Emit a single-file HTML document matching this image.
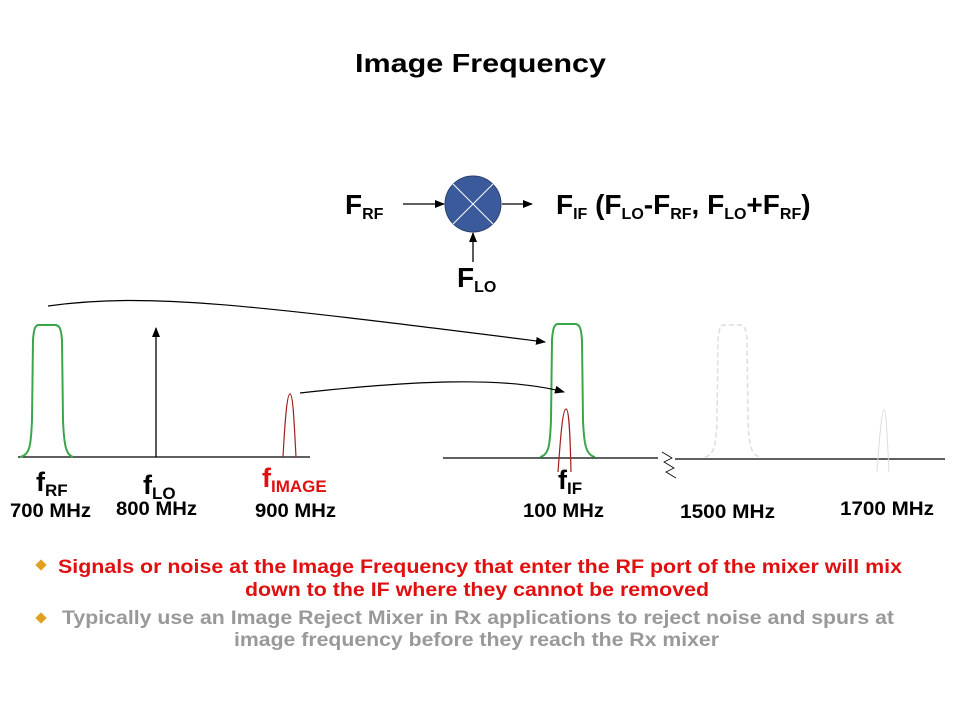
<!DOCTYPE html>
<html><head><style>
body{margin:0;width:960px;height:720px;background:#fff;overflow:hidden;font-family:"Liberation Sans",Arial,sans-serif}
svg text{font-family:"Liberation Sans",Arial,sans-serif;font-weight:bold}
</style></head><body>
<svg width="960" height="720" viewBox="0 0 960 720" xmlns="http://www.w3.org/2000/svg">
<defs>
<marker id="ah" markerWidth="10" markerHeight="8" refX="9" refY="4" orient="auto" markerUnits="userSpaceOnUse"><path d="M0,0 L10,4 L0,8 z" fill="#000"/></marker>
</defs>
<text x="355" y="72" font-size="26" textLength="251" lengthAdjust="spacingAndGlyphs">Image Frequency</text>

<!-- mixer -->
<circle cx="473" cy="204" r="28" fill="#3a5a9c" stroke="#2a3f70" stroke-width="1"/>
<line x1="453" y1="184" x2="493" y2="224" stroke="#fff" stroke-width="1"/>
<line x1="493" y1="184" x2="453" y2="224" stroke="#fff" stroke-width="1"/>
<line x1="403" y1="204" x2="444" y2="204" stroke="#000" stroke-width="1.3" marker-end="url(#ah)"/>
<line x1="502" y1="204" x2="532" y2="204" stroke="#000" stroke-width="1.3" marker-end="url(#ah)"/>
<line x1="473" y1="262" x2="473" y2="233" stroke="#000" stroke-width="1.3" marker-end="url(#ah)"/>
<text x="345" y="214" font-size="28">F<tspan font-size="16" dy="5">RF</tspan></text>
<text x="457" y="287" font-size="28">F<tspan font-size="16" dy="5">LO</tspan></text>
<text x="556" y="214" font-size="28">F<tspan font-size="16" dy="5">IF</tspan><tspan dy="-5"> (F</tspan><tspan font-size="16" dy="5">LO</tspan><tspan dy="-5">-F</tspan><tspan font-size="16" dy="5">RF</tspan><tspan dy="-5">, F</tspan><tspan font-size="16" dy="5">LO</tspan><tspan dy="-5">+F</tspan><tspan font-size="16" dy="5">RF</tspan><tspan dy="-5">)</tspan></text>

<!-- baselines -->
<line x1="18" y1="457" x2="310" y2="457" stroke="#000" stroke-width="1.3"/>
<line x1="443" y1="458" x2="658" y2="458" stroke="#000" stroke-width="1.3"/>
<line x1="675" y1="459" x2="945" y2="459" stroke="#000" stroke-width="1.3"/>
<path d="M662,452 L672,458 L664,462 L674,468 L666,472 L676,478" fill="none" stroke="#000" stroke-width="0.8"/>

<!-- RF filter -->
<path d="M20,457 C30,455 31,445 32,420 L33,340 C34,326 36,326 38,325 L56,325 C59,326 61,327 62,340 L63,420 C64,445 66,455 73,457" fill="none" stroke="#3aa64a" stroke-width="2"/>
<line x1="156" y1="457" x2="156" y2="328" stroke="#000" stroke-width="1.3" marker-end="url(#ah)"/>
<path d="M283,457 C285,420 287,394 290,394 C293,394 294,420 296,457" fill="none" stroke="#a02020" stroke-width="1.2"/>
<!-- IF filter -->
<path d="M540,457 C549,455 550,445 551,420 L552,340 C553,326 555,325 557,324 L576,324 C579,325 581,326 582,340 L583,420 C584,445 586,455 595,457" fill="none" stroke="#3aa64a" stroke-width="2"/>
<path d="M558,472 C561,430 563,409 566,409 C569,409 570,430 571,472" fill="none" stroke="#a02020" stroke-width="1.2"/>
<!-- ghost -->
<path d="M705,457 C714,455 716,445 717,420 L718,340 C719,327 721,326 723,325 L741,325 C744,326 746,327 747,340 L748,420 C749,445 751,455 760,457" fill="none" stroke="#ddd" stroke-width="1.5" stroke-dasharray="5,3"/>
<path d="M877,472 C880,430 882,410 884,410 C886,410 887,430 889,472" fill="none" stroke="#ddd" stroke-width="1"/>

<path d="M48,306 C150,292 250,305 545,342" fill="none" stroke="#000" stroke-width="1.2" marker-end="url(#ah)"/>
<path d="M300,393 C400,382 500,375 564,392" fill="none" stroke="#000" stroke-width="1.2" marker-end="url(#ah)"/>

<!-- labels -->
<text x="36" y="491" font-size="27">f<tspan font-size="17" dy="5">RF</tspan></text>
<text x="10" y="517" font-size="19" textLength="81" lengthAdjust="spacingAndGlyphs">700 MHz</text>
<text x="143" y="494" font-size="27">f<tspan font-size="17" dy="5">LO</tspan></text>
<text x="116" y="515" font-size="19" textLength="81" lengthAdjust="spacingAndGlyphs">800 MHz</text>
<text x="262" y="487" font-size="27" fill="#e01010">f<tspan font-size="17" dy="5">IMAGE</tspan></text>
<text x="255" y="517" font-size="19" textLength="81" lengthAdjust="spacingAndGlyphs">900 MHz</text>
<text x="558" y="489" font-size="27">f<tspan font-size="17" dy="5">IF</tspan></text>
<text x="523" y="517" font-size="19" textLength="81" lengthAdjust="spacingAndGlyphs">100 MHz</text>
<text x="680" y="518" font-size="19" textLength="95" lengthAdjust="spacingAndGlyphs">1500 MHz</text>
<text x="840" y="515" font-size="19" textLength="94" lengthAdjust="spacingAndGlyphs">1700 MHz</text>

<!-- bullets -->
<rect x="37" y="561" width="8" height="8" fill="#e0a020" transform="rotate(45 41 565)"/>
<text font-size="19" fill="#e01010"><tspan x="58" y="573" textLength="844" lengthAdjust="spacingAndGlyphs">Signals or noise at the Image Frequency that enter the RF port of the mixer will  mix</tspan></text>
<text font-size="19" fill="#e01010"><tspan x="245" y="596" textLength="464" lengthAdjust="spacingAndGlyphs">down to the IF where they cannot be removed</tspan></text>
<rect x="37" y="614" width="8" height="8" fill="#e0a020" transform="rotate(45 41 618)"/>
<text font-size="19" fill="#999"><tspan x="62" y="624" textLength="832" lengthAdjust="spacingAndGlyphs">Typically  use an Image Reject Mixer in Rx applications to reject noise and spurs at</tspan></text>
<text font-size="19" fill="#999"><tspan x="234" y="646" textLength="485" lengthAdjust="spacingAndGlyphs">image frequency before they reach the Rx mixer</tspan></text>
</svg>
</body></html>
